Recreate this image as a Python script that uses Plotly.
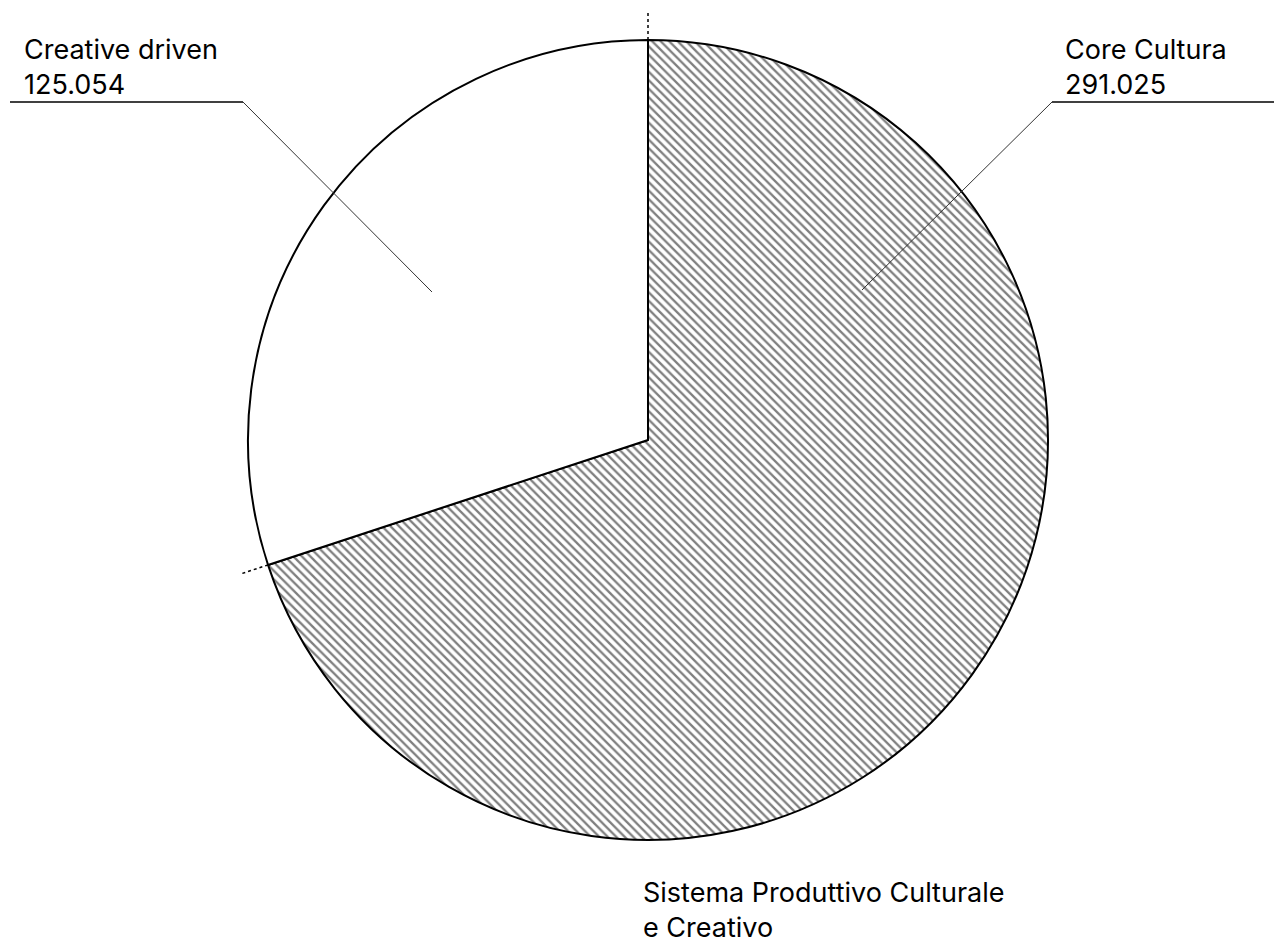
import math
import plotly.graph_objects as go

# ---- data ----
labels = ["Core Cultura", "Creative driven"]
values = [291.025, 125.054]
value_text = ["291.025", "125.054"]
title_text = "Sistema Produttivo Culturale<br>e Creativo"
patterns = ["\\", ""]

# ---- layout geometry (pixels) ----
W, H = 1274, 946
CX, CY, R = 648, 440, 400
FONT = dict(family="Inter, Roboto, sans-serif", size=27, color="#000000")


def px(x):
    return x / W


def py(y):
    return 1 - y / H


fig = go.Figure()
fig.add_trace(go.Pie(
    labels=labels,
    values=values,
    sort=False,
    direction="clockwise",
    rotation=0,
    textinfo="none",
    hoverinfo="label+value",
    showlegend=False,
    domain=dict(x=[px(CX - R), px(CX + R)], y=[py(CY + R), py(CY - R)]),
    marker=dict(
        colors=["#ffffff", "#ffffff"],
        line=dict(color="#000000", width=2),
        pattern=dict(shape=patterns, fgcolor="#000000", bgcolor="#ffffff",
                     size=6, solidity=0.38, fillmode="overlay"),
    ),
))

shapes = []
# dotted extensions of slice boundaries
total = sum(values)
cum = 0
for v in values:
    ang = math.radians(cum / total * 360)  # clockwise from 12 o'clock
    x0 = CX + R * math.sin(ang)
    y0 = CY - R * math.cos(ang)
    x1 = CX + (R + 30) * math.sin(ang)
    y1 = CY - (R + 30) * math.cos(ang)
    shapes.append(dict(type="line", xref="paper", yref="paper",
                       x0=px(x0), y0=py(y0), x1=px(x1), y1=py(y1),
                       line=dict(color="#000000", width=1.5, dash="dot")))
    cum += v

# leader lines (right: Core Cultura, left: Creative driven)
leaders = [
    ((CX + 214, CY - 150), (CX + 404, CY - 338), (W, CY - 338)),
    ((CX - 216, CY - 148), (CX - 405, CY - 338), (10, CY - 338)),
]
for a, b, c in leaders:
    shapes.append(dict(type="line", xref="paper", yref="paper",
                       x0=px(a[0]), y0=py(a[1]), x1=px(b[0]), y1=py(b[1]),
                       line=dict(color="#333333", width=1)))
    shapes.append(dict(type="line", xref="paper", yref="paper",
                       x0=px(b[0]), y0=py(b[1]), x1=px(c[0]), y1=py(c[1]),
                       line=dict(color="#000000", width=1.5)))

annotations = [
    dict(text=f"{labels[0]}<br>{value_text[0]}", x=px(1063), y=py(31),
         xref="paper", yref="paper", xanchor="left", yanchor="top",
         align="left", showarrow=False, font=FONT),
    dict(text=f"{labels[1]}<br>{value_text[1]}", x=px(22), y=py(31),
         xref="paper", yref="paper", xanchor="left", yanchor="top",
         align="left", showarrow=False, font=FONT),
    dict(text=title_text, x=px(641), y=py(874),
         xref="paper", yref="paper", xanchor="left", yanchor="top",
         align="left", showarrow=False, font=FONT),
]

fig.update_layout(
    width=W, height=H,
    margin=dict(l=0, r=0, t=0, b=0),
    paper_bgcolor="#ffffff",
    plot_bgcolor="#ffffff",
    shapes=shapes,
    annotations=annotations,
)

fig.write_html(
    "out.html",
    config={"displayModeBar": False},
    post_script="document.body.style.margin='0px';document.body.style.overflow='hidden';",
)
